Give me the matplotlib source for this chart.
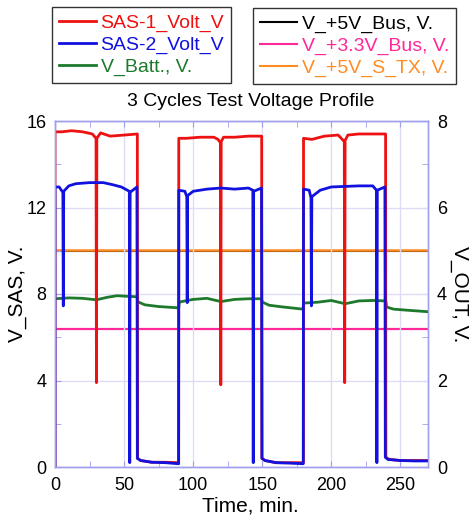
import matplotlib
matplotlib.use("Agg")
import matplotlib.pyplot as plt
from matplotlib.lines import Line2D
from matplotlib.ticker import MultipleLocator

plt.rcParams['font.family'] = ['Liberation Sans', 'DejaVu Sans']

# SAS-1 (red), left axis
t_sas1 = [0, 0, 5, 12, 20, 27, 29.7, 30, 30.3, 33, 40, 50, 59.6,
          59.8, 62, 70, 80, 89.5,
          89.6, 95, 105, 115, 118, 119.7, 120, 120.3, 122, 130, 140, 149.6,
          149.8, 152, 160, 170, 179.8,
          179.9, 186, 195, 205, 209.4, 209.7, 210, 212, 220, 230, 239.3,
          239.5, 242, 250, 260, 270]
v_sas1 = [0, 15.5, 15.5, 15.55, 15.5, 15.4, 15.2, 3.9, 15.2, 15.45, 15.3, 15.35, 15.4,
          0.4, 0.3, 0.22, 0.22, 0.2,
          15.2, 15.2, 15.25, 15.25, 15.15, 15.0, 3.8, 15.05, 15.25, 15.25, 15.3, 15.3,
          0.4, 0.3, 0.2, 0.2, 0.2,
          15.2, 15.15, 15.3, 15.35, 15.05, 3.9, 15.1, 15.35, 15.4, 15.4, 15.4,
          0.45, 0.35, 0.3, 0.3, 0.3]

# SAS-2 (blue), left axis
t_sas2 = [0, 0, 3, 5.7, 6, 6.3, 10, 15, 25, 35, 42, 48, 53.8, 54.1, 54.4, 59.3,
          59.6, 62, 70, 80, 89.5,
          89.6, 94, 95.4, 95.7, 96, 100, 110, 120, 130, 140, 143.2, 143.5, 143.8, 149.5,
          149.8, 152, 160, 170, 179.7,
          179.9, 184, 185.3, 185.6, 185.9, 192, 200, 220, 230, 232.7, 233, 233.3, 238.8,
          239.1, 241, 250, 260, 270]
v_sas2 = [0, 12.95, 12.95, 12.7, 7.45, 12.75, 13.0, 13.1, 13.15, 13.15, 13.05, 12.95, 12.75, 0.2, 12.7, 12.95,
          0.4, 0.3, 0.22, 0.2, 0.15,
          12.8, 12.75, 12.5, 7.6, 12.55, 12.75, 12.85, 12.9, 12.85, 12.9, 12.8, 0.2, 12.75, 12.9,
          0.4, 0.3, 0.2, 0.18, 0.15,
          12.85, 12.8, 12.45, 7.45, 12.5, 12.8, 12.95, 13.0, 13.0, 12.8, 0.2, 12.8, 12.95,
          0.45, 0.35, 0.3, 0.28, 0.28]

# V_Batt (green), left axis
t_batt = [0, 10, 20, 30, 38, 45, 59.5, 60, 65, 75, 89.5, 90, 100, 110, 120, 130, 140, 149.5,
          150, 155, 165, 179.5, 180, 190, 200, 210, 220, 230, 239.5, 240, 245, 255, 270]
v_batt = [7.78, 7.82, 7.8, 7.73, 7.85, 7.92, 7.87, 7.64, 7.5, 7.42, 7.36, 7.63, 7.75, 7.8, 7.65, 7.75, 7.78, 7.78,
          7.63, 7.48, 7.4, 7.3, 7.58, 7.62, 7.7, 7.55, 7.68, 7.7, 7.68, 7.4, 7.3, 7.25, 7.18]

# output bus voltages, right axis
t_out = [0, 270]
v_5v_bus = [4.99, 4.99]
v_33v_bus = [3.2, 3.2]
v_5v_stx = [5.01, 5.01]

c_red = '#ee1111'
c_blue = '#1111e0'
c_green = '#1d7a2a'
c_pink = '#ff2898'
c_orange = '#ff8c22'
c_spine = '#a0a0ee'
c_grid = '#dcdcf6'

fig = plt.figure(figsize=(4.72, 5.17), dpi=100)
ax = fig.add_axes([55 / 472, 1 - 467 / 517, 373 / 472, 346 / 517])
ax2 = ax.twinx()
ax.set_zorder(ax2.get_zorder() + 1)
ax.patch.set_visible(False)

ax2.plot(t_out, v_5v_bus, color='black', lw=1.5)
ax2.plot(t_out, v_33v_bus, color=c_pink, lw=1.6)
ax2.plot(t_out, v_5v_stx, color=c_orange, lw=1.8)

ax.plot(t_batt, v_batt, color=c_green, lw=2.0)
ax.plot(t_sas1, v_sas1, color=c_red, lw=2.0)
ax.plot(t_sas2, v_sas2, color=c_blue, lw=2.0)

ax.set_xlim(0, 270)
ax.set_ylim(0, 16)
ax2.set_ylim(0, 8)
ax.xaxis.set_major_locator(MultipleLocator(50))
ax.xaxis.set_minor_locator(MultipleLocator(25))
ax.yaxis.set_major_locator(MultipleLocator(4))
ax.yaxis.set_minor_locator(MultipleLocator(2))
ax2.yaxis.set_major_locator(MultipleLocator(2))
ax2.yaxis.set_minor_locator(MultipleLocator(1))

ax.grid(True, which='major', color=c_grid, lw=1.0)
for a in (ax, ax2):
    for s in a.spines.values():
        s.set_color(c_spine)
        s.set_linewidth(1.0)
ax.tick_params(axis='x', which='both', direction='in', top=True, color=c_spine,
               length=4, labelsize=13, pad=7)
ax.tick_params(axis='y', which='both', direction='in', color=c_spine,
               length=4, labelsize=13, pad=6)
ax2.tick_params(axis='y', which='both', direction='in', color=c_spine,
                length=4, labelsize=13, pad=6.5)

ax.set_xlabel('Time, min.', fontsize=15, labelpad=2)
ax.xaxis.label.set_x(0.525)
ax.set_ylabel('V_SAS, V.', fontsize=15, labelpad=0)
ax2.set_ylabel('V_OUT, V.', fontsize=15, rotation=270, labelpad=16)

fig.text(251 / 472, 1 - 101 / 517, '3 Cycles Test Voltage Profile',
         fontsize=14, ha='center', va='center')

# two legend boxes on top
h_left = [Line2D([], [], color=c_red, lw=2), Line2D([], [], color=c_blue, lw=2),
          Line2D([], [], color=c_green, lw=2)]
l_left = ['SAS-1_Volt_V', 'SAS-2_Volt_V', 'V_Batt., V.']
h_right = [Line2D([], [], color='black', lw=1.5), Line2D([], [], color=c_pink, lw=1.5),
           Line2D([], [], color=c_orange, lw=1.5)]
l_right = ['V_+5V_Bus, V.', 'V_+3.3V_Bus, V.', 'V_+5V_S_TX, V.']

leg_kw = dict(fontsize=14, frameon=True, fancybox=False, framealpha=1,
              edgecolor='#333333', borderaxespad=0, handlelength=1.9,
              handletextpad=0.25, labelspacing=0.22, borderpad=0.35)
leg1 = fig.legend(h_left, l_left, loc='upper left',
                  bbox_to_anchor=(52 / 472, 1 - 7 / 517), **leg_kw)
for txt, c in zip(leg1.get_texts(), [c_red, c_blue, c_green]):
    txt.set_color(c)
leg2 = fig.legend(h_right, l_right, loc='upper left',
                  bbox_to_anchor=(253 / 472, 1 - 8 / 517), **leg_kw)
for txt, c in zip(leg2.get_texts(), ['black', c_pink, c_orange]):
    txt.set_color(c)
leg1.get_frame().set_linewidth(1.0)
leg2.get_frame().set_linewidth(1.0)

fig.savefig('out.png', dpi=100)
